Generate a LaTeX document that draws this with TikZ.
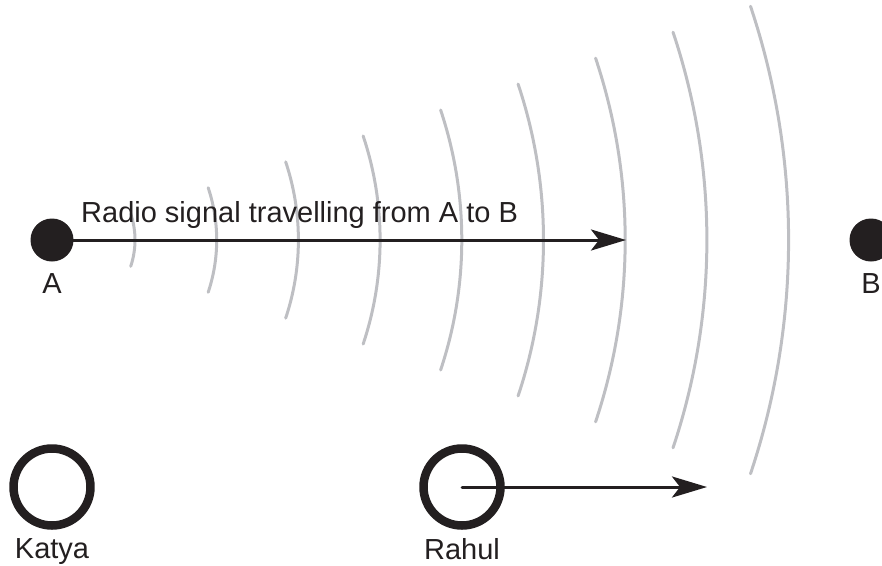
\documentclass[tikz,border=0pt]{standalone}
\usepackage{fontspec}
\setmainfont{Liberation Sans}
\usepackage{tikz}
\usepackage{xcolor}
\usetikzlibrary{arrows.meta,positioning}
\definecolor{ink}{RGB}{35,31,32}
\definecolor{wavegray}{RGB}{190,191,195}
\tikzset{
  every picture/.append style={line cap=round,line join=round},
  radio dot/.style={circle,fill=ink,inner sep=0pt,minimum size=43pt},
  radio ring/.style={circle,draw=ink,line width=8.5pt,inner sep=0pt,minimum size=77pt},
  radio wave/.style={wavegray,line width=3pt},
  radio arrow/.style={ink,line width=3pt,-{Stealth[length=35pt,width=21pt,inset=8pt]}},
  radio label/.style={text=ink,inner sep=0pt,font=\fontsize{29}{35}\selectfont}
}
\begin{document}
\begin{tikzpicture}[x=1pt,y=-1pt]
  \useasboundingbox (0,0) rectangle (882,565);
  % wave fronts round A
  \foreach \i in {0,...,8} {
    \draw[radio wave] (52,240) ++(-18.5:{83+81.7*\i}) arc[start angle=-18.5,end angle=18.5,radius={83+81.7*\i}];
  }
  \node[radio dot] (A) at (52,240) {};
  \node[radio dot] (B) at (871,240) {};
  \node[radio ring] (Katya) at (52,487) {};
  \node[radio ring] (Rahul) at (462,487) {};
  \node[radio label,below=12pt of A] (labA) {A};
  \node[radio label,below=12pt of B] (labB) {B};
  \node[radio label,below=8.5pt of Katya] (labK) {Katya};
  \node[radio label,below=8.5pt of Rahul] (labR) {Rahul};
  \coordinate (front) at (626,240);
  \coordinate (ahead) at (707,487);
  \draw[radio arrow] (A.center) -- (front);
  \draw[radio arrow] (Rahul.center) -- (ahead);
  \node[radio label,anchor=base west] (sig) at (81,222) {Radio signal travelling from A to B};
\end{tikzpicture}
\end{document}
